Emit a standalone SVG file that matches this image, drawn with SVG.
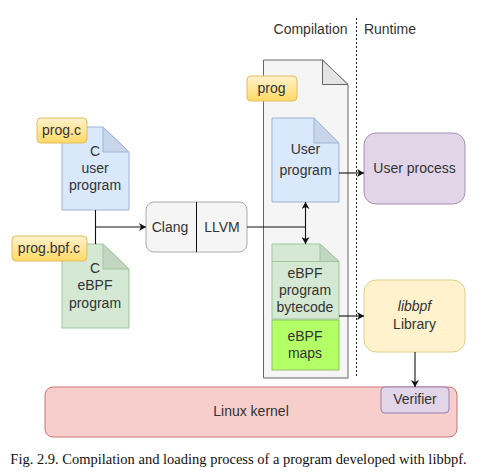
<svg xmlns="http://www.w3.org/2000/svg" width="481" height="474" viewBox="0 0 481 474">
<style>
text{font-family:"Liberation Sans",Arial,sans-serif;font-size:14px;fill:#333;text-anchor:middle}
.blue{fill:#dae8fc;stroke:#9db4d6}.bluef{fill:#c9d6ea;stroke:#9db4d6}
.green{fill:#d5e8d4;stroke:#9fc59c}.greenf{fill:#c3d6c2;stroke:#9fc59c}
.tag{fill:url(#gold);stroke:#e3bd5f}
.c{fill:none;stroke:#111;stroke-width:1.1}
</style>
<defs>
<linearGradient id="gold" x1="0" y1="0" x2="0" y2="1"><stop offset="0" stop-color="#fff2cc"/><stop offset="1" stop-color="#ffd966"/></linearGradient>
<marker id="a" viewBox="0 0 8 8" refX="7" refY="4" markerWidth="8" markerHeight="8" markerUnits="userSpaceOnUse" orient="auto-start-reverse"><path d="M0 0L7 4L0 8L2 4Z" fill="#111"/></marker>
</defs>
<rect width="481" height="474" fill="#fff"/>
<g id="n-prog">
<path d="M263.5 60H322.5L348 84.500V378H263.500Z" fill="#f5f5f5" stroke="#666"/>
<path d="M322.500 60V84.500H348Z" fill="#e4e4e4" stroke="#666"/>
<rect class="tag" x="247" y="76" width="50" height="25" rx="4"/>
<text x="271.500" y="93">prog</text>
</g>
<g id="n-user-src">
<path class="blue" d="M62 127H103L129 152V210H62Z"/>
<path class="bluef" d="M103 127V152H129Z"/>
<text x="95" y="156">C</text><text x="95" y="173">user</text><text x="95" y="190">program</text>
<rect class="tag" x="37" y="118" width="50" height="25" rx="4"/>
<text x="61.500" y="135">prog.c</text>
</g>
<g id="n-ebpf-src">
<path class="green" d="M62 244H103L129 269V328H62Z"/>
<path class="greenf" d="M103 244V269H129Z"/>
<text x="95" y="273">C</text><text x="95" y="290">eBPF</text><text x="95" y="308">program</text>
<rect class="tag" x="12" y="236" width="75" height="25" rx="4"/>
<text x="49" y="253">prog.bpf.c</text>
</g>
<g id="n-compiler">
<rect x="146" y="202" width="101" height="50" rx="8" fill="#f5f5f5" stroke="#aaa"/>
<path d="M196.500 202V252" stroke="#111" fill="none"/>
<text x="170" y="231.500">Clang</text><text x="222" y="231.500">LLVM</text>
</g>
<g id="n-user-bin">
<path class="blue" d="M272 118H314L339 143V202H272Z"/>
<path class="bluef" d="M314 118V143H339Z"/>
<text x="305.500" y="154">User</text><text x="305.500" y="175">program</text>
</g>
<g id="n-bytecode">
<path class="green" d="M272 244H320L339 261.500V319H272Z"/>
<path class="greenf" d="M320 244V261.500H339Z"/>
<path d="M272 261.500H339" class="green"/>
<text x="305" y="278">eBPF</text><text x="305" y="295">program</text><text x="305" y="312">bytecode</text>
</g>
<g id="n-maps">
<rect x="272" y="320" width="67" height="50" fill="#b3ff66" stroke="#8fc267"/>
<text x="305" y="341">eBPF</text><text x="305" y="358">maps</text>
</g>
<g id="n-user-process">
<rect x="364" y="133" width="101" height="71" rx="12" fill="#e1d5e7" stroke="#a98fb5"/>
<text x="414.500" y="173">User process</text>
</g>
<g id="n-library">
<rect x="364" y="280" width="101" height="72" rx="12" fill="#fff2cc" stroke="#e0cf8e"/>
<text x="414.500" y="311" font-style="italic">libbpf</text><text x="414.500" y="329">Library</text>
</g>
<g id="n-kernel">
<rect x="45" y="387" width="412" height="50" rx="8" fill="#f8cecc" stroke="#c77571"/>
<text x="251" y="416">Linux kernel</text>
</g>
<g id="n-verifier">
<rect x="381" y="387" width="68" height="26" rx="4" fill="#e1d5e7" stroke="#9a7fb0"/>
<text x="415" y="404">Verifier</text>
</g>
<g id="connectors">
<path class="c" d="M95.500 210V244M95.500 227H146" marker-end="url(#a)"/>
<path class="c" d="M247 227H305.500"/>
<path class="c" d="M305.500 202V244" marker-start="url(#a)" marker-end="url(#a)"/>
<path class="c" d="M339 173H364" marker-end="url(#a)"/>
<path class="c" d="M339 316H364" marker-end="url(#a)"/>
<path class="c" d="M415 352V387" marker-end="url(#a)"/>
<path d="M356.500 18V378" fill="none" stroke="#222" stroke-dasharray="2 2"/>
</g>
<text x="310.500" y="34">Compilation</text>
<text x="390" y="34">Runtime</text>
<text x="238.500" y="464" style="font-family:'Liberation Serif',serif;font-size:14.5px;fill:#111">Fig. 2.9. Compilation and loading process of a program developed with libbpf.</text>
</svg>
